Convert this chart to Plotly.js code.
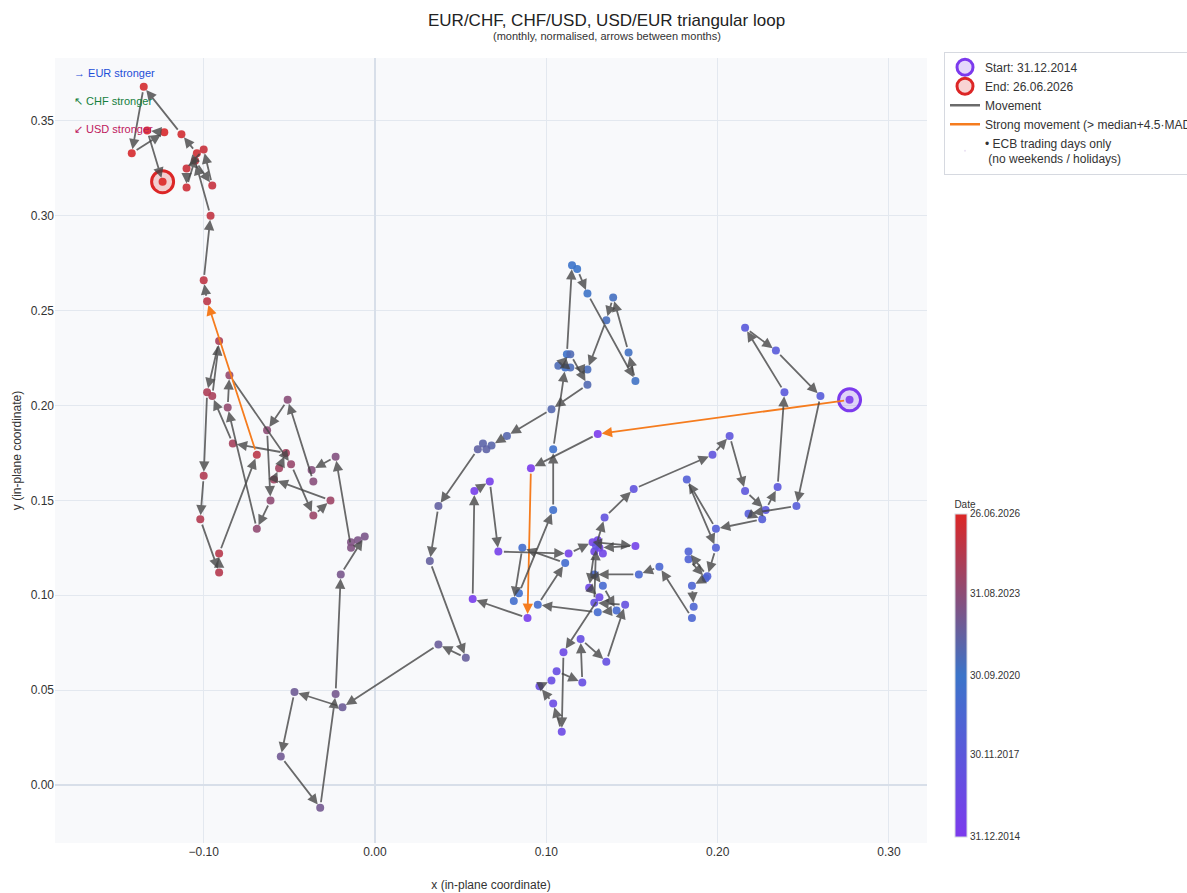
<!DOCTYPE html>
<html><head><meta charset="utf-8">
<script src="https://cdn.plot.ly/plotly-3.0.1.min.js"></script>
<style>html,body{margin:0;padding:0;background:#fff}#chart{width:1187px;height:893px}</style>
</head><body><div id="chart"></div>
<script>
// Monthly in-plane coordinates (index 0 = 31.12.2014 ... 138 = 26.06.2026)
const xs = [0.277,0.130,0.091,0.089,0.057,0.058,0.067,0.072,0.113,0.127,
0.152,0.131,0.130,0.133,0.128,0.125,0.131,0.110,0.109,0.104,
0.096,0.103,0.106,0.121,0.120,0.135,0.146,0.128,0.129,0.134,
0.151,0.197,0.207,0.216,0.228,0.235,0.239,0.216,0.234,0.260,
0.246,0.218,0.226,0.199,0.182,0.199,0.194,0.183,0.183,0.193,
0.185,0.186,0.185,0.166,0.154,0.128,0.133,0.141,0.130,0.095,
0.111,0.086,0.081,0.084,0.104,0.104,0.111,0.112,0.115,0.118,
0.124,0.152,0.148,0.139,0.135,0.124,0.114,0.107,0.114,0.124,
0.103,0.077,0.068,0.063,0.065,0.060,0.037,0.032,0.053,0.037,
-0.019,-0.047,-0.055,-0.032,-0.023,-0.020,-0.006,-0.010,-0.014,-0.014,
-0.023,-0.037,-0.036,-0.051,-0.063,-0.061,-0.069,-0.086,-0.085,-0.049,
-0.036,-0.026,-0.059,-0.056,-0.052,-0.083,-0.095,-0.091,-0.098,-0.100,
-0.102,-0.091,-0.091,-0.069,-0.098,-0.100,-0.096,-0.105,-0.095,-0.100,
-0.110,-0.110,-0.104,-0.113,-0.135,-0.142,-0.123,-0.133,-0.124];
const ys = [0.203,0.185,0.167,0.088,0.098,0.155,0.160,0.123,0.122,0.128,
0.126,0.125,0.129,0.122,0.123,0.104,0.099,0.070,0.028,0.043,
0.052,0.055,0.060,0.054,0.077,0.065,0.095,0.096,0.126,0.141,
0.156,0.174,0.184,0.155,0.145,0.157,0.207,0.241,0.229,0.205,
0.147,0.143,0.140,0.135,0.161,0.125,0.110,0.123,0.119,0.109,
0.105,0.094,0.088,0.115,0.111,0.111,0.105,0.092,0.091,0.095,
0.117,0.125,0.097,0.101,0.145,0.177,0.220,0.227,0.274,0.272,
0.259,0.213,0.228,0.257,0.245,0.219,0.220,0.221,0.227,0.211,
0.198,0.184,0.179,0.180,0.177,0.177,0.147,0.118,0.067,0.074,
0.041,0.049,0.015,-0.012,0.048,0.111,0.131,0.129,0.128,0.125,
0.173,0.166,0.160,0.203,0.187,0.150,0.135,0.199,0.216,0.169,
0.142,0.150,0.161,0.167,0.175,0.180,0.205,0.234,0.207,0.163,
0.140,0.112,0.122,0.174,0.255,0.266,0.300,0.329,0.316,0.335,
0.325,0.315,0.333,0.343,0.368,0.333,0.344,0.345,0.318];
// months (index of arrival) whose step exceeds median + 4.5·MAD
const strongIdx = [1, 3, 124];
// colourbar ticks
const tickIdx = [0, 35, 69, 104, 138];
const tickLabels = ['31.12.2014','30.11.2017','30.09.2020','31.08.2023','26.06.2026'];
const hintTexts = ['→ EUR stronger','↖ CHF stronger','↙ USD stronger'];
const titleText = 'EUR/CHF, CHF/USD, USD/EUR triangular loop';
const subtitleText = '(monthly, normalised, arrows between months)';

const n = xs.length;
const idx = xs.map((_, i) => i);
const gray = 'rgba(70,70,70,0.8)';
const orange = '#f57c1e';
const hintColors = ['#1d4ed8','#15803d','#be185d'];
const hintY = [0.981, 0.945, 0.9096];

const annotations = [];
for (let i = 1; i < n; i++) {
  const strong = strongIdx.includes(i);
  annotations.push({
    x: xs[i], y: ys[i], ax: xs[i-1], ay: ys[i-1],
    xref: 'x', yref: 'y', axref: 'x', ayref: 'y',
    text: '', showarrow: true, arrowhead: 2, arrowsize: 1.15,
    arrowwidth: 1.8, arrowcolor: strong ? orange : gray,
    standoff: 4, startstandoff: 4
  });
}
hintTexts.forEach((t, k) => annotations.push({
  xref: 'paper', yref: 'paper', x: 0.0195, y: hintY[k], xanchor: 'left', yanchor: 'middle',
  text: t, showarrow: false, font: {size: 11, color: hintColors[k]}
}));
annotations.push({
  xref: 'paper', yref: 'paper', x: 0.6331, y: 1.028, xanchor: 'center', yanchor: 'middle',
  text: subtitleText, showarrow: false, font: {size: 11, color: '#333'}
});

const traces = [
  {x: [xs[0]], y: [ys[0]], mode: 'markers', name: 'Start: ' + tickLabels[0],
   marker: {size: 22, color: 'rgba(124,58,237,0.2)', line: {color: '#7c3aed', width: 3}}, hoverinfo: 'skip'},
  {x: [xs[n-1]], y: [ys[n-1]], mode: 'markers', name: 'End: ' + tickLabels[tickLabels.length-1],
   marker: {size: 22, color: 'rgba(220,38,38,0.2)', line: {color: '#dc2626', width: 3}}, hoverinfo: 'skip'},
  {x: [null], y: [null], mode: 'lines', name: 'Movement', line: {color: gray, width: 2.5}},
  {x: [null], y: [null], mode: 'lines', name: 'Strong movement (> median+4.5·MAD)', line: {color: orange, width: 2.5}},
  {x: [null], y: [null], mode: 'markers', name: '• ECB trading days only<br> (no weekends / holidays)', marker: {opacity: 0, size: 1}},
  {x: xs, y: ys, mode: 'markers', showlegend: false,
   marker: {size: 8, color: idx, cmin: 0, cmax: n-1, opacity: 0.9,
     colorscale: [[0,'#7c3aed'],[0.5,'#3b74c9'],[1,'#dc2626']],
     colorbar: {title: {text: 'Date', side: 'top', font: {size: 10}},
       tickvals: tickIdx, ticktext: tickLabels, tickfont: {size: 10},
       thickness: 12, len: 0.432, lenmode: 'fraction', y: 0.008, yanchor: 'bottom',
       x: 1.032, xanchor: 'left', xpad: 0, ypad: 0, outlinewidth: 1, outlinecolor: '#d6d9e0', ticks: ''}}}
];

const layout = {
  width: 1187, height: 893,
  margin: {l: 55, r: 260, t: 58, b: 50, autoexpand: false},
  paper_bgcolor: '#ffffff', plot_bgcolor: '#f8f9fb',
  font: {family: 'Liberation Sans, Arial, sans-serif', size: 12, color: '#333'},
  title: {text: titleText,
    x: 0.511, xref: 'container', xanchor: 'center', y: 0.9776, yref: 'container', yanchor: 'middle',
    font: {size: 17, color: '#222'}},
  xaxis: {range: [-0.1868, 0.3222], dtick: 0.1, tick0: 0, tickformat: '.2f',
    gridcolor: '#e3e8ef', zeroline: true, zerolinecolor: '#d8dfe9', zerolinewidth: 2,
    showline: false, ticks: '', automargin: false,
    title: {text: 'x (in-plane coordinate)', font: {size: 12}}},
  yaxis: {range: [-0.0306, 0.3832], dtick: 0.05, tick0: 0, tickformat: '.2f',
    gridcolor: '#e3e8ef', zeroline: true, zerolinecolor: '#d8dfe9', zerolinewidth: 2,
    showline: false, ticks: '', automargin: false,
    title: {text: 'y (in-plane coordinate)', font: {size: 12}}},
  legend: {x: 1.0195, xanchor: 'left', y: 1.008, yanchor: 'top', bgcolor: '#ffffff',
    bordercolor: '#d6d9e0', borderwidth: 1, font: {size: 12, color: '#333'}, traceorder: 'normal'},
  annotations: annotations,
  showlegend: true
};

Plotly.newPlot('chart', traces, layout, {displayModeBar: false});
</script>
</body></html>
